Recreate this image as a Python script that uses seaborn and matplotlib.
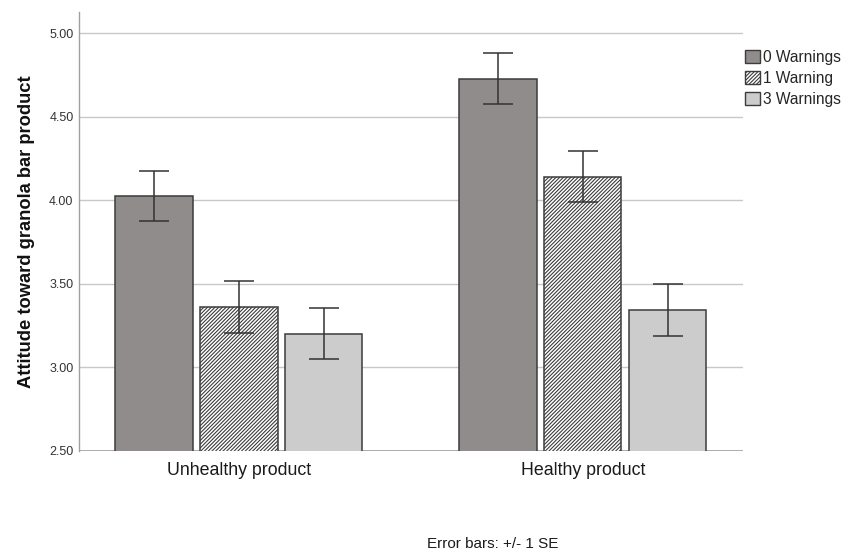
import matplotlib
matplotlib.use("Agg")
import matplotlib.pyplot as plt
from matplotlib.patches import Patch
import seaborn as sns
import pandas as pd

# Mean attitude scores and standard errors per product type and warning condition
products = ["Unhealthy product", "Healthy product"]
conditions = ["0 Warnings", "1 Warning", "3 Warnings"]
mean_unhealthy = [4.025, 3.362, 3.202]
mean_healthy = [4.727, 4.140, 3.342]
se_unhealthy = [0.152, 0.155, 0.153]
se_healthy = [0.152, 0.153, 0.156]

fill_colors = ["#908c8b", "#ffffff", "#cccccc"]
hatches = ["", "/////////", ""]

df = pd.DataFrame({
    "product": [p for p in products for _ in conditions],
    "condition": conditions * 2,
    "mean": mean_unhealthy + mean_healthy,
    "se": se_unhealthy + se_healthy,
})

sns.set_theme(style="white")
plt.rcParams["font.family"] = ["Liberation Sans", "DejaVu Sans"]
plt.rcParams["hatch.linewidth"] = 0.8
plt.rcParams["hatch.color"] = "#333333"

fig = plt.figure(figsize=(8.44, 5.52), dpi=100)
ax = fig.add_axes([0.0936, 0.183, 0.7864, 0.795])

sns.barplot(data=df, x="product", y="mean", hue="condition", order=products,
            hue_order=conditions, palette=fill_colors, saturation=1,
            errorbar=None, width=0.74, gap=0.09, edgecolor="#3c3c3c",
            linewidth=1.1, legend=False, ax=ax, zorder=3)

for cont, hatch, cond in zip(ax.containers, hatches, conditions):
    sub = df[df["condition"] == cond].set_index("product").loc[products]
    xs = []
    for bar in cont:
        bar.set_hatch(hatch)
        xs.append(bar.get_x() + bar.get_width() / 2)
    ax.errorbar(xs, sub["mean"], yerr=sub["se"], fmt="none", ecolor="#333333",
                elinewidth=1.1, capsize=11, capthick=1.1, zorder=4)

ax.set_ylim(2.5, 5.125)
ax.set_xlim(-0.465, 1.465)
ax.set_yticks([2.5, 3.0, 3.5, 4.0, 4.5, 5.0])
ax.set_yticklabels([f"{v:.2f}" for v in [2.5, 3.0, 3.5, 4.0, 4.5, 5.0]])
ax.yaxis.grid(True, color="#c8c8c8", linewidth=1.0, zorder=0)
ax.set_axisbelow(True)
ax.tick_params(axis="y", labelsize=9, colors="#333333", pad=4, length=0)
ax.tick_params(axis="x", labelsize=12.8, colors="#1a1a1a", pad=8, length=0)
for s in ["top", "right", "bottom"]:
    ax.spines[s].set_visible(False)
ax.spines["left"].set_color("#a0a0a0")
ax.spines["left"].set_linewidth(1.0)
ax.axhline(2.5, color="#a0a0a0", linewidth=1.2, zorder=2)

ax.set_xlabel("")
ax.set_ylabel("Attitude toward granola bar product", fontsize=13.2,
              fontweight="bold", color="#111111", labelpad=10)

handles = [Patch(facecolor=c, edgecolor="#3c3c3c", hatch=h, linewidth=1.0)
           for c, h in zip(fill_colors, hatches)]
fig.legend(handles, conditions, loc="upper left", bbox_to_anchor=(0.877, 0.918),
           frameon=False, fontsize=11.2, handlelength=0.96, handleheight=0.9,
           handletextpad=0.2, labelspacing=0.38, borderpad=0.1,
           borderaxespad=0.2)

fig.text(0.584, 0.0145, "Error bars: +/- 1 SE", ha="center", va="center",
         fontsize=11, color="#1a1a1a")

fig.savefig("out.png", dpi=100, facecolor="white")
